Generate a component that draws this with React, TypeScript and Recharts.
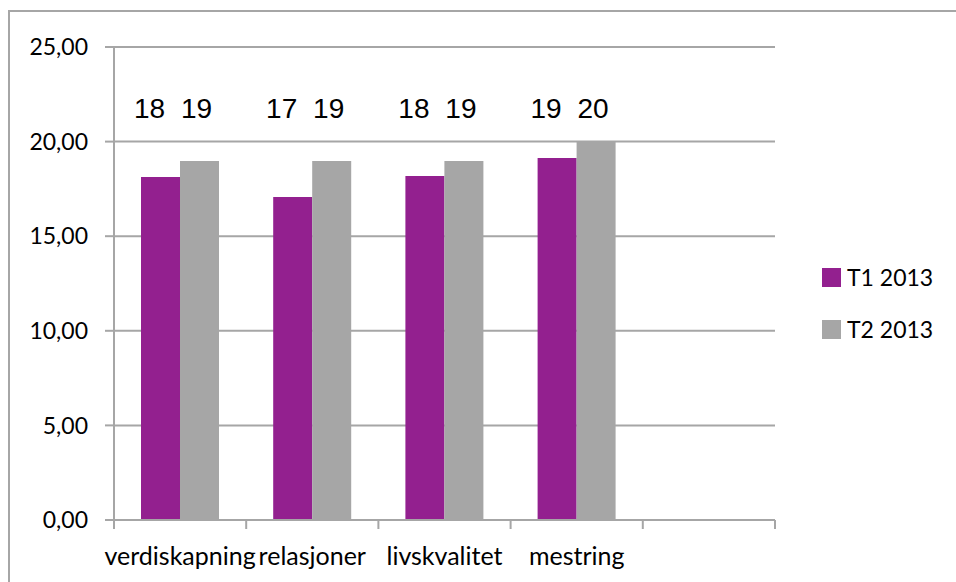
import React from 'react';
import { BarChart, Bar, XAxis, YAxis, CartesianGrid, Legend, LabelList } from 'recharts';

const categories = ['verdiskapning', 'relasjoner', 'livskvalitet', 'mestring', ''];
const t1Values: (number | null)[] = [18.13, 17.07, 18.18, 19.13, null];
const t2Values: (number | null)[] = [18.97, 18.97, 18.97, 20.0, null];
const yTicks = [0, 5, 10, 15, 20, 25];
const seriesNames = ['T1 2013', 'T2 2013'];
const seriesColors = ['#93208F', '#A6A6A6'];

const data = categories.map((c, i) => ({ name: c, t1: t1Values[i], t2: t2Values[i] }));

const W = 956;
const H = 582;
const M = { top: 47, right: 181, bottom: 0, left: 14 };
const Y_AXIS_W = 100;
const PLOT_W = W - M.left - M.right - Y_AXIS_W;
const BAND = PLOT_W / categories.length;
const GRID = '#A6A6A6';
const FONT = 'Lato, "Open Sans", sans-serif';
const LABEL_FONT = '"Liberation Sans", Arial, sans-serif';

const XTick = (props: any) => {
  const { x, y, payload, index } = props;
  const left = x - BAND / 2;
  return (
    <g>
      <line x1={left} y1={y} x2={left} y2={y + 9} stroke={GRID} strokeWidth={2} />
      {index === categories.length - 1 && (
        <line x1={x + BAND / 2} y1={y} x2={x + BAND / 2} y2={y + 9} stroke={GRID} strokeWidth={2} />
      )}
      <text x={x} y={y + 45} textAnchor="middle" fontFamily={FONT} fontSize={25} fill="#000">
        {payload.value}
      </text>
    </g>
  );
};

const makeLabel = (dx: number) => (props: any) => {
  const { x, width, value } = props;
  if (value === null || value === undefined) return null;
  return (
    <text x={x + width / 2 + dx} y={118} textAnchor="middle" fontFamily={LABEL_FONT} fontSize={28} fill="#000">
      {Math.round(value)}
    </text>
  );
};

const renderLegend = (props: any) => (
  <div style={{ fontFamily: FONT, fontSize: 23, color: '#000' }}>
    {props.payload.map((e: any, i: number) => (
      <div key={i} style={{ display: 'flex', alignItems: 'center', height: 52 }}>
        <span style={{ display: 'inline-block', width: 19, height: 19, background: e.color, marginRight: 6 }} />
        <span>{e.value}</span>
      </div>
    ))}
  </div>
);

export default function App() {
  return (
    <div style={{ position: 'absolute', left: 0, top: 0, width: W, height: H, background: '#fff', overflow: 'hidden' }}>
      <div
        style={{
          position: 'absolute',
          left: 8,
          top: 10,
          width: W,
          height: H,
          borderTop: `2px solid ${GRID}`,
          borderLeft: `2px solid ${GRID}`,
        }}
      />
      <div style={{ position: 'absolute', left: 0, top: 0 }}>
        <BarChart width={W} height={H} data={data} margin={M} barCategoryGap={27} barGap={0}>
          <CartesianGrid vertical={false} stroke={GRID} strokeWidth={2} />
          <XAxis
            dataKey="name"
            height={62}
            axisLine={{ stroke: GRID, strokeWidth: 2 }}
            tickLine={false}
            tickSize={0}
            tickMargin={0}
            interval={0}
            tick={<XTick />}
          />
          <YAxis
            width={Y_AXIS_W}
            domain={[0, 25]}
            ticks={yTicks}
            interval={0}
            axisLine={{ stroke: GRID, strokeWidth: 2 }}
            tickLine={{ stroke: GRID, strokeWidth: 2 }}
            tickSize={9}
            tickMargin={17}
            tick={{ fontFamily: FONT, fontSize: 23, fill: '#000' }}
            tickFormatter={(v: number) => v.toFixed(2).replace('.', ',')}
          />
          <Legend
            layout="vertical"
            align="center"
            verticalAlign="middle"
            content={renderLegend}
            wrapperStyle={{ position: 'absolute', left: 822, top: 251, width: 130 }}
          />
          <Bar dataKey="t1" name={seriesNames[0]} fill={seriesColors[0]} isAnimationActive={false}>
            <LabelList dataKey="t1" content={makeLabel(-11)} />
          </Bar>
          <Bar dataKey="t2" name={seriesNames[1]} fill={seriesColors[1]} isAnimationActive={false}>
            <LabelList dataKey="t2" content={makeLabel(-3)} />
          </Bar>
        </BarChart>
      </div>
    </div>
  );
}
